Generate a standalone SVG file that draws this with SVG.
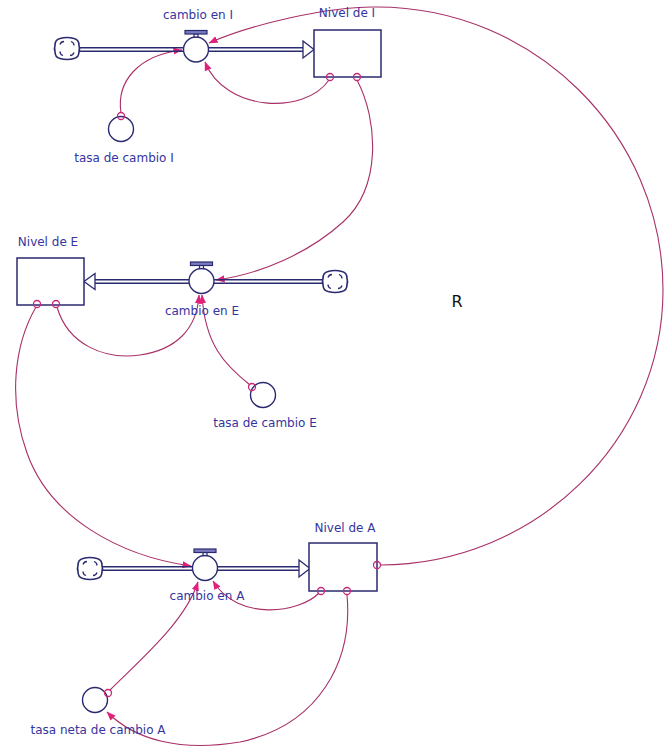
<svg xmlns="http://www.w3.org/2000/svg" width="665" height="750" viewBox="0 0 665 750">
<style>
.lbl{font-family:"DejaVu Sans",Verdana,sans-serif;font-size:12px;fill:#3535a0;text-anchor:middle}
.stock{fill:#fff;stroke:#2a2a70;stroke-width:1.5}
.pipe{stroke:#2a2a70;stroke-width:1.5;fill:none}
.head{fill:#fff;stroke:#2a2a70;stroke-width:1.3}
.cn{fill:none;stroke:#a83068;stroke-width:1.1}
.org{fill:none;stroke:#c8287a;stroke-width:1.3}
.aux{fill:#fff;stroke:#2a2a70;stroke-width:1.4}
</style>
<defs>
<marker id="ah" viewBox="0 0 10 10" refX="9.5" refY="5" markerWidth="9" markerHeight="9" markerUnits="userSpaceOnUse" orient="auto">
<path d="M0,1 L10,5 L0,9 Z" fill="#e0207a"/>
</marker>
<g id="valve">
<circle r="12.5" cx="0" cy="0" fill="#fff" stroke="#2a2a70" stroke-width="1.4"/>
<rect x="-2" y="-15.5" width="4" height="3" fill="#fff" stroke="#2a2a70" stroke-width="1.2"/>
<rect x="-11" y="-19" width="22" height="3.5" fill="#7a7ac0" stroke="#2a2a70" stroke-width="1.2"/>
</g>
<g id="cloud">
<path d="M-7,-10 Q0,-12 7,-10 Q12,-9 12,-3 Q13,0 12,3 Q12,9 7,10 Q0,12 -7,10 Q-12,9 -12,3 Q-13,0 -12,-3 Q-12,-9 -7,-10 Z" fill="#fff" stroke="#2a2a70" stroke-width="1.6"/>
<path d="M-7,-4 q1,-3 4,-3 M4,-7 q3,1 3,4 M7,4 q-1,3 -4,3 M-4,7 q-3,-1 -3,-4" fill="none" stroke="#2a2a70" stroke-width="1.3"/>
</g>
</defs>
<rect width="665" height="750" fill="#fff"/>

<g id="connectors">
<path class="cn" d="M380,565 C535,565 663,441 663,290 C663,134 534,7 377,7 C330,6 252,24 209,43" marker-end="url(#ah)"/>
<path class="cn" d="M121,113 C116,80 140,55 182,50" marker-end="url(#ah)"/>
<path class="cn" d="M329,80 C305,115 225,112 205,62" marker-end="url(#ah)"/>
<path class="cn" d="M357,80 C378,120 382,187 343,222 C310,252 262,274 216,280" marker-end="url(#ah)"/>
<path class="cn" d="M57,307 C68,345 105,360 140,355 C175,350 197,330 199,295" marker-end="url(#ah)"/>
<path class="cn" d="M250,385 C225,365 205,345 202,295" marker-end="url(#ah)"/>
<path class="cn" d="M36,307 C14,345 8,400 27,453 C50,518 120,556 191,566" marker-end="url(#ah)"/>
<path class="cn" d="M319,593 C300,613 238,622 213,581" marker-end="url(#ah)"/>
<path class="cn" d="M110,690 C140,660 185,622 198,582" marker-end="url(#ah)"/>
<path class="cn" d="M347,595 C353,660 320,725 240,742 C180,752 135,740 107,712" marker-end="url(#ah)"/>
</g>

<g id="flow-cambio-en-I">
<line class="pipe" x1="78" y1="47.8" x2="303" y2="47.8"/>
<line class="pipe" x1="78" y1="51.2" x2="303" y2="51.2"/>
<path class="head" d="M303,41 L314,49.5 L303,58 Z"/>
<use href="#valve" x="196" y="49.5"/>
<text class="lbl" x="198" y="19">cambio en I</text>
</g>
<g id="cloud-I"><use href="#cloud" x="67" y="48.5"/></g>
<g id="stock-nivel-de-I">
<rect class="stock" x="314" y="30" width="67" height="47"/>
<text class="lbl" x="347" y="17">Nivel de I</text>
</g>
<g id="aux-tasa-de-cambio-I">
<circle class="aux" cx="121" cy="129" r="12.5"/>
<text class="lbl" x="124" y="162">tasa de cambio I</text>
</g>

<g id="flow-cambio-en-E">
<line class="pipe" x1="95" y1="279.8" x2="324" y2="279.8"/>
<line class="pipe" x1="95" y1="283.2" x2="324" y2="283.2"/>
<path class="head" d="M95,273.5 L84,281.5 L95,289.5 Z"/>
<use href="#valve" x="201.5" y="281"/>
<text class="lbl" x="202" y="315">cambio en E</text>
</g>
<g id="cloud-E"><use href="#cloud" x="335" y="281.5"/></g>
<g id="stock-nivel-de-E">
<rect class="stock" x="17" y="258" width="67" height="47"/>
<text class="lbl" x="48" y="246">Nivel de E</text>
</g>
<g id="aux-tasa-de-cambio-E">
<circle class="aux" cx="263" cy="395" r="12.5"/>
<text class="lbl" x="265" y="427">tasa de cambio E</text>
</g>

<g id="flow-cambio-en-A">
<line class="pipe" x1="102" y1="566.8" x2="299" y2="566.8"/>
<line class="pipe" x1="102" y1="570.2" x2="299" y2="570.2"/>
<path class="head" d="M299,560 L310,568.5 L299,577 Z"/>
<use href="#valve" x="205" y="568"/>
<text class="lbl" x="207" y="600">cambio en A</text>
</g>
<g id="cloud-A"><use href="#cloud" x="90" y="568.5"/></g>
<g id="stock-nivel-de-A">
<rect class="stock" x="309" y="543" width="68" height="48"/>
<text class="lbl" x="345" y="532">Nivel de A</text>
</g>
<g id="aux-tasa-neta-de-cambio-A">
<circle class="aux" cx="95" cy="700" r="12.5"/>
<text class="lbl" x="98" y="734">tasa neta de cambio A</text>
</g>

<g id="origins">
<circle class="org" cx="330" cy="77" r="3.5"/>
<circle class="org" cx="357" cy="77" r="3.5"/>
<circle class="org" cx="121" cy="116" r="3.5"/>
<circle class="org" cx="37" cy="304" r="3.5"/>
<circle class="org" cx="56" cy="304" r="3.5"/>
<circle class="org" cx="252" cy="387" r="3.5"/>
<circle class="org" cx="321" cy="591" r="3.5"/>
<circle class="org" cx="347" cy="591" r="3.5"/>
<circle class="org" cx="377" cy="565" r="3.5"/>
<circle class="org" cx="108" cy="693" r="3.5"/>
</g>

<g id="loop-R">
<text x="457" y="307" font-family="DejaVu Sans,Verdana,sans-serif" font-size="16" fill="#111" text-anchor="middle">R</text>
</g>
</svg>
